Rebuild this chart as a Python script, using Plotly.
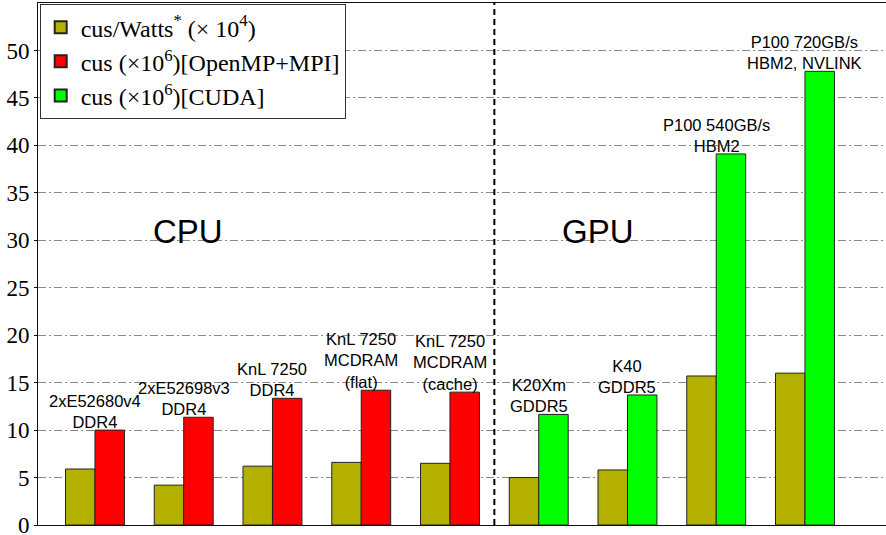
import plotly.graph_objects as go

groups = [1, 2, 3, 4, 5, 6, 7, 8, 9]
watts = [5.9, 4.2, 6.2, 6.6, 6.5, 5.0, 5.8, 15.7, 16.0]
cpu_groups = [1, 2, 3, 4, 5]
cpu_vals = [10.0, 11.35, 13.35, 14.2, 14.0]
gpu_groups = [6, 7, 8, 9]
gpu_vals = [11.65, 13.7, 39.1, 47.8]
labels = ["2xE52680v4<br>DDR4", "2xE52698v3<br>DDR4", "KnL 7250<br>DDR4",
          "KnL 7250<br>MCDRAM<br>(flat)", "KnL 7250<br>MCDRAM<br>(cache)",
          "K20Xm<br>GDDR5", "K40<br>GDDR5", "P100 540GB/s<br>HBM2",
          "P100 720GB/s<br>HBM2, NVLINK"]
y_ticks = [0, 5, 10, 15, 20, 25, 30, 35, 40, 45, 50]

W = 0.332
line = dict(color="#222222", width=1)
fig = go.Figure()
fig.add_trace(go.Bar(x=groups, y=watts, width=W, offset=-W,
                     marker=dict(color="#B4B000", line=line),
                     name="cus/Watts<sup>*</sup> (× 10<sup>4</sup>)"))
fig.add_trace(go.Bar(x=cpu_groups, y=cpu_vals, width=W, offset=0,
                     marker=dict(color="#FF0000", line=line),
                     name="cus (×10<sup>6</sup>)[OpenMP+MPI]"))
fig.add_trace(go.Bar(x=gpu_groups, y=gpu_vals, width=W, offset=0,
                     marker=dict(color="#00FF00", line=line),
                     name="cus (×10<sup>6</sup>)[CUDA]"))

tops = [max(a, b) for a, b in zip(watts, cpu_vals + gpu_vals)]
for g, t, lab in zip(groups, tops, labels):
    fig.add_annotation(x=g, y=t, text=lab, showarrow=False, yanchor="bottom",
                       xanchor="center", yshift=-3,
                       font=dict(family="Liberation Sans", size=16.5, color="black"))

fig.add_annotation(x=2.05, y=30.9, text="CPU", showarrow=False,
                   font=dict(family="Liberation Sans", size=33, color="black"))
fig.add_annotation(x=6.67, y=30.9, text="GPU", showarrow=False,
                   font=dict(family="Liberation Sans", size=33, color="black"))

fig.add_shape(type="line", x0=5.5, x1=5.5, y0=0, y1=1, xref="x", yref="paper",
              line=dict(color="black", width=2, dash="6px,4px"))

fig.update_layout(
    width=886, height=535,
    margin=dict(l=38, r=0, t=3, b=10),
    plot_bgcolor="white", paper_bgcolor="white",
    barmode="overlay",
    showlegend=True,
    legend=dict(x=0.002, y=0.998, xanchor="left", yanchor="top",
                bgcolor="white", bordercolor="#333333", borderwidth=1,
                font=dict(family="Liberation Serif", size=24, color="black"),
                tracegroupgap=0, itemsizing="constant"),
    xaxis=dict(range=[0.358, 9.913], showticklabels=False, ticks="",
               showgrid=False, zeroline=False, showline=True, automargin=False,
               linecolor="#111111", linewidth=1, mirror=True),
    yaxis=dict(range=[0, 55], tickvals=y_ticks, showgrid=True, automargin=False,
               gridcolor="#888888", griddash="8px,3px,2px,3px", gridwidth=1,
               zeroline=False, showline=True, linecolor="#111111", linewidth=1,
               ticks="outside", ticklen=3, tickcolor="#111111",
               ticklabeloverflow="allow",
               tickfont=dict(family="Liberation Serif", size=23, color="black")),
)
fig.write_html("out.html", config={"displayModeBar": False},
               post_script="document.body.style.margin='0px';document.body.style.overflow='hidden';")
